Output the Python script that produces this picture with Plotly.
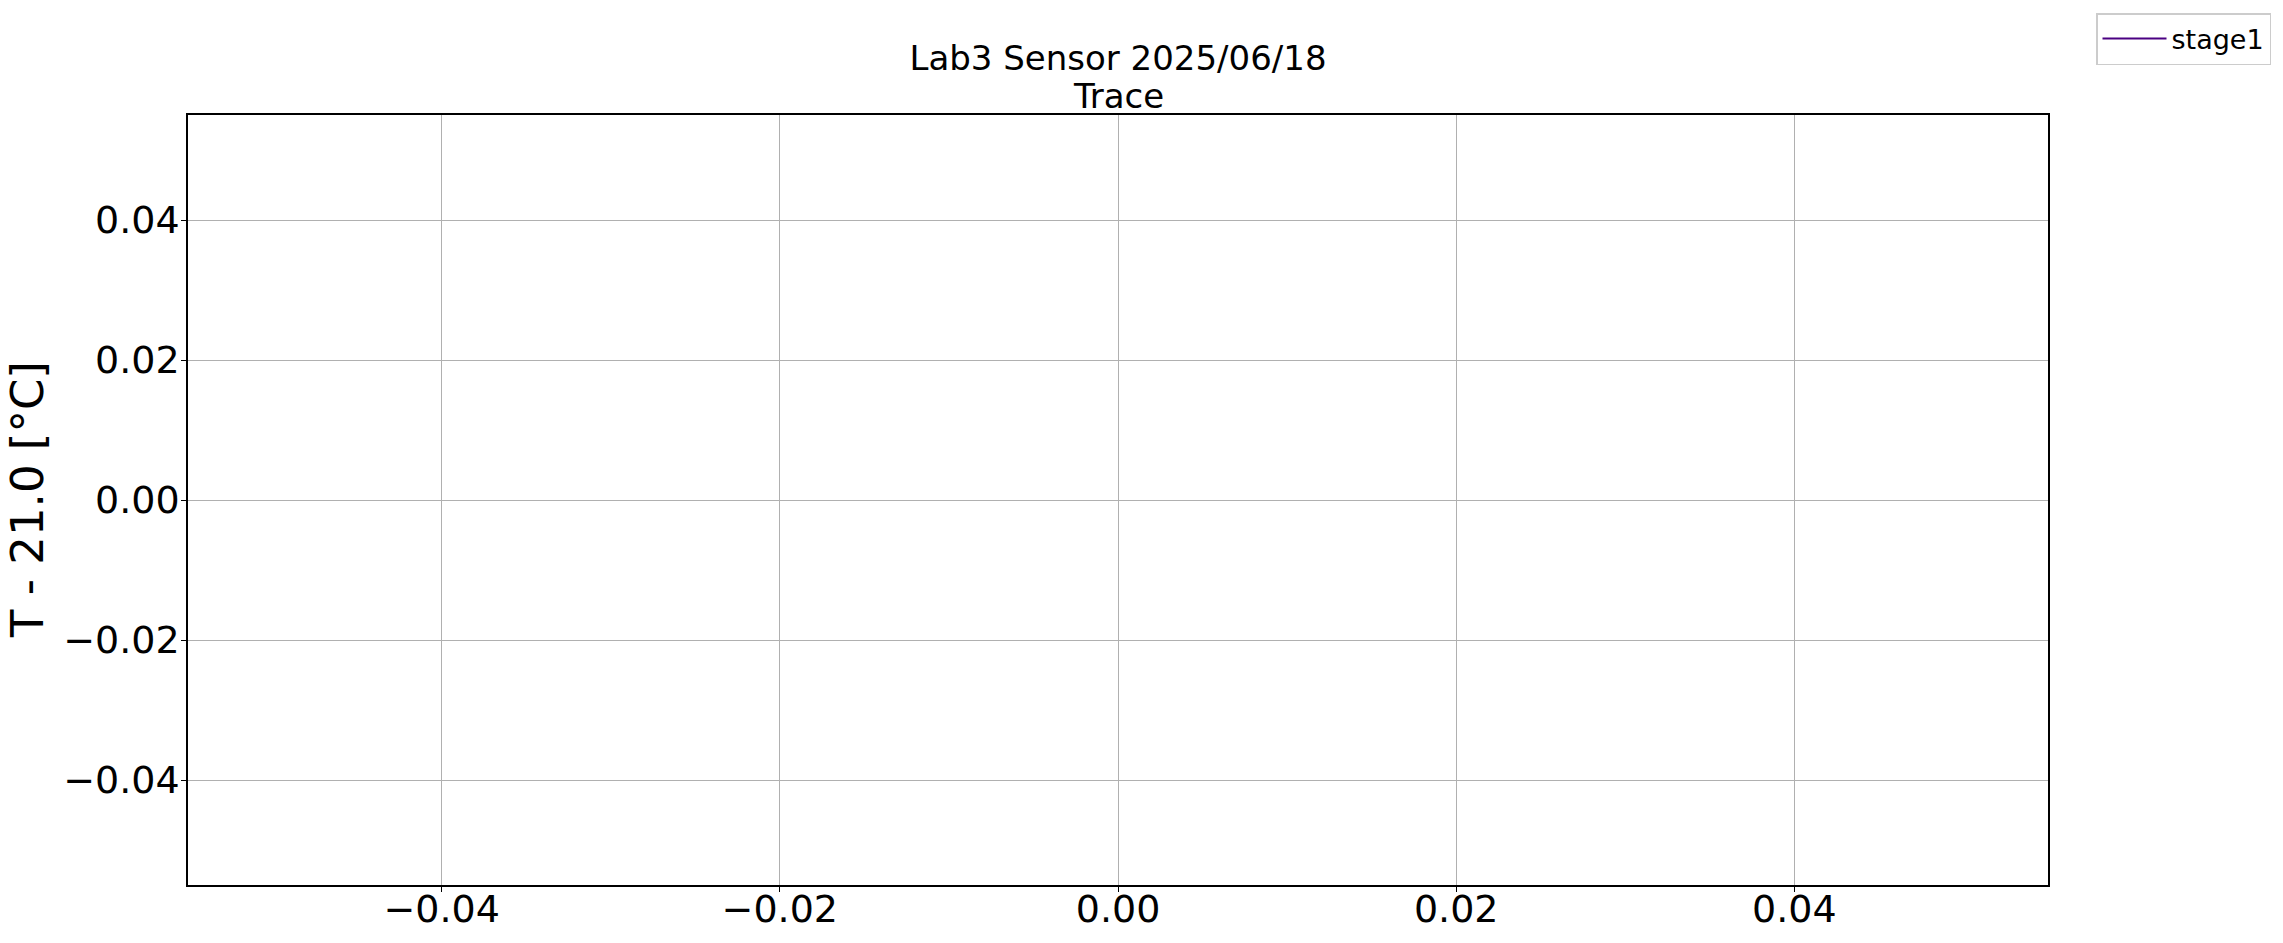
import plotly.graph_objects as go

# Data (the trace is empty in the reference)
series_name = "stage1"
x_values = [None]
y_values = [None]
x_ticks = [-0.04, -0.02, 0.0, 0.02, 0.04]
y_ticks = [-0.04, -0.02, 0.0, 0.02, 0.04]
title_line1 = "Lab3 Sensor 2025/06/18"
title_line2 = "Trace"
y_label = "T - 21.0 [°C]"

W, H = 2283, 943
L, R, T, B = 188, 235, 115, 58
PW, PH = W - L - R, H - T - B
FONT = "DejaVu Sans"

fig = go.Figure()
fig.add_trace(go.Scatter(x=x_values, y=y_values, mode="lines", name=series_name,
                         line=dict(color="#4b0082", width=2), showlegend=True))

axis_common = dict(
    showgrid=True, gridcolor="#b0b0b0", gridwidth=1,
    showline=True, linecolor="black", linewidth=1.5, mirror=True,
    ticks="outside", ticklen=5, tickwidth=1.2, tickcolor="black",
    tickfont=dict(family=FONT, size=38, color="black"),
    zeroline=False, tickformat=".2f",
)

fig.update_layout(
    width=W, height=H,
    margin=dict(l=L, r=R, t=T, b=B, autoexpand=False),
    paper_bgcolor="white", plot_bgcolor="white",
    font=dict(family=FONT, color="black"),
    title=dict(text=title_line1, x=0.5, xref="paper",
               xanchor="center", y=1 - 58 / H, yref="container", yanchor="middle",
               font=dict(family=FONT, size=34, color="black")),
    xaxis=dict(range=[-0.055, 0.055], tickvals=x_ticks, ticklabelstandoff=-15, **axis_common),
    yaxis=dict(range=[-0.055, 0.055], tickvals=y_ticks, ticklabelstandoff=-6, **axis_common),
    legend=dict(x=(2271 - L) / PW, xanchor="right",
                y=(H - B - 13) / PH, yanchor="top",
                bordercolor="#cccccc", borderwidth=1.5, bgcolor="white",
                itemwidth=64,
                font=dict(family=FONT, size=27, color="black")),
    showlegend=True,
    annotations=[
        dict(text=title_line2, xref="paper", yref="paper", x=0.5, y=(H - B - 96) / PH,
             xanchor="center", yanchor="middle", showarrow=False,
             font=dict(family=FONT, size=34, color="black")),
        dict(text=y_label, textangle=-90, xref="paper", yref="paper",
             x=(27 - L) / PW, y=0.5, xanchor="center", yanchor="middle",
             showarrow=False, font=dict(family=FONT, size=45, color="black")),
    ],
)

fig.write_html("out.html", config={"displayModeBar": False},
               post_script="document.body.style.margin='0px';")
